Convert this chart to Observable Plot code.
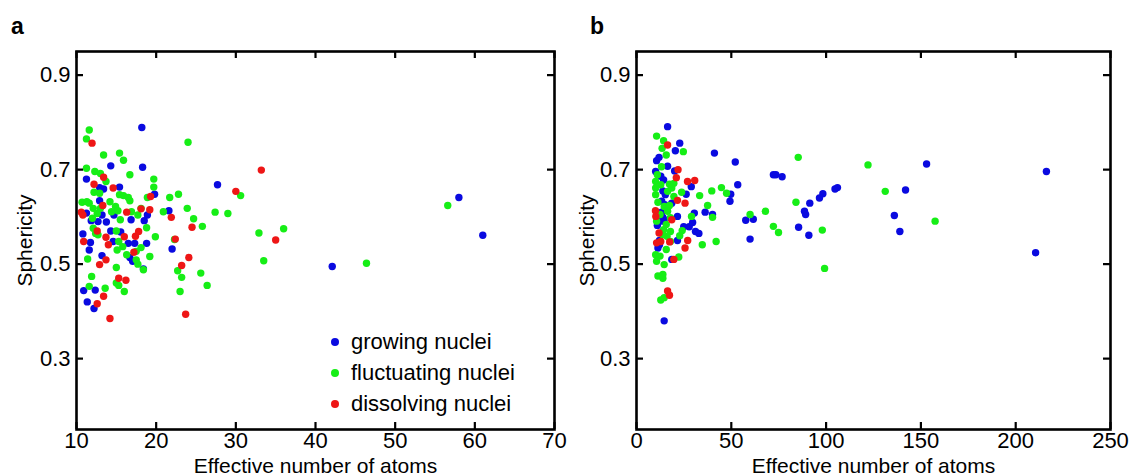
<!DOCTYPE html>
<html><head><meta charset="utf-8">
<script src="https://cdn.jsdelivr.net/npm/d3@7"></script>
<script src="https://cdn.jsdelivr.net/npm/@observablehq/plot@0.6"></script>
<style>
body{margin:0;background:#fff;font-family:"Liberation Sans",Arial,sans-serif;}
#wrap{position:relative;width:1129px;height:475px;overflow:hidden;background:#fff}
.panel{position:absolute;top:0}
.letter{position:absolute;top:15px;font-size:23px;font-weight:bold;line-height:22px;color:#000}
#legend{position:absolute;left:331px;top:326px;font-size:22px;color:#000}
.row{display:flex;align-items:center;height:31px;white-space:nowrap}
.dot{width:8px;height:8px;border-radius:50%;margin-right:12px;flex:none}
</style></head><body>
<div id="wrap">
  <div id="pa" class="panel" style="left:0"></div>
  <div id="pb" class="panel" style="left:565px"></div>
  <div class="letter" style="left:11px">a</div>
  <div class="letter" style="left:590px">b</div>
  <div id="legend"></div>
</div>
<script>
const seriesNames = ["growing nuclei", "fluctuating nuclei", "dissolving nuclei"];
const seriesColors = ["#0a0ae0", "#16ee16", "#ee1616"];
const yTicks = [0.3, 0.5, 0.7, 0.9];
const xTicksA = [10, 20, 30, 40, 50, 60, 70];
const xTicksB = [0, 50, 100, 150, 200, 250];

// Panel a
const aGrowing = [[18.2,0.789],[14.3,0.708],[18.3,0.705],[11.25,0.680],[15.4,0.663],[13.4,0.659],[12.9,0.662],[12.9,0.634],[11.85,0.592],[11.25,0.608],[10.8,0.564],[11.6,0.530],[11.75,0.546],[12.7,0.590],[13.2,0.604],[14.7,0.604],[14.3,0.570],[14.6,0.548],[15.55,0.568],[13.2,0.518],[16.85,0.594],[16.5,0.544],[17.3,0.544],[16.7,0.514],[17.05,0.506],[18.5,0.592],[18.9,0.604],[18.8,0.544],[18.4,0.490],[19.8,0.648],[21.6,0.613],[22.0,0.532],[27.7,0.668],[10.9,0.444],[11.35,0.420],[12.35,0.445],[12.2,0.406],[42.1,0.495],[58.0,0.641],[61.0,0.561],[13.75,0.589]];
const aFluctuating = [[11.6,0.784],[11.25,0.765],[24.0,0.758],[13.4,0.731],[15.4,0.735],[15.9,0.720],[11.25,0.703],[12.3,0.696],[13.0,0.692],[16.7,0.689],[13.7,0.675],[19.7,0.680],[19.7,0.663],[12.2,0.652],[12.9,0.650],[15.4,0.647],[15.9,0.645],[16.5,0.641],[16.7,0.634],[18.9,0.641],[21.7,0.641],[22.8,0.648],[30.6,0.645],[10.7,0.631],[11.3,0.632],[11.6,0.629],[14.2,0.632],[23.9,0.618],[24.7,0.596],[27.4,0.610],[29.0,0.607],[20.9,0.611],[25.8,0.580],[32.9,0.566],[36.0,0.575],[56.6,0.624],[33.5,0.507],[46.4,0.502],[12.1,0.618],[12.6,0.607],[14.4,0.611],[14.9,0.622],[15.2,0.613],[15.5,0.594],[16.9,0.611],[17.7,0.604],[18.1,0.618],[12.1,0.576],[12.4,0.565],[12.7,0.562],[15.0,0.570],[15.3,0.548],[15.8,0.537],[15.1,0.530],[16.3,0.520],[17.5,0.527],[18.1,0.535],[18.8,0.577],[19.9,0.558],[22.3,0.552],[17.5,0.509],[17.7,0.500],[19.2,0.516],[11.4,0.511],[11.9,0.474],[11.6,0.453],[13.6,0.449],[15.0,0.493],[15.0,0.460],[15.3,0.455],[16.0,0.442],[22.7,0.486],[23.2,0.472],[23.0,0.442],[25.6,0.481],[26.4,0.455],[18.4,0.488],[12.0,0.597],[13.0,0.618]];
const aDissolving = [[11.95,0.756],[33.2,0.699],[13.4,0.684],[12.2,0.669],[14.6,0.661],[30.0,0.654],[19.3,0.643],[10.6,0.610],[10.8,0.604],[13.3,0.624],[18.1,0.617],[19.2,0.615],[16.3,0.610],[21.9,0.599],[24.5,0.578],[35.0,0.551],[13.7,0.557],[14.0,0.541],[12.6,0.570],[10.9,0.548],[16.0,0.558],[17.4,0.559],[17.8,0.569],[17.2,0.525],[22.4,0.553],[12.9,0.499],[13.7,0.509],[23.2,0.497],[24.1,0.514],[15.3,0.470],[16.2,0.466],[13.4,0.432],[12.6,0.416],[14.2,0.385],[23.7,0.394]];

// Panel b
const bGrowing = [[16.4,0.791],[22.8,0.756],[20.5,0.740],[41.1,0.735],[52.1,0.716],[153.0,0.712],[216.2,0.696],[10.6,0.719],[11.9,0.726],[10.1,0.696],[12.8,0.686],[14.3,0.678],[16.4,0.707],[20.1,0.697],[72.2,0.689],[73.5,0.689],[76.8,0.685],[53.4,0.668],[28.9,0.664],[26.2,0.648],[106.0,0.662],[104.7,0.659],[141.9,0.657],[13.9,0.655],[15.2,0.647],[49.7,0.648],[49.3,0.633],[98.3,0.649],[96.5,0.640],[91.4,0.629],[13.3,0.633],[14.9,0.626],[18.6,0.629],[13.2,0.610],[30.5,0.608],[36.2,0.610],[40.1,0.605],[136.0,0.603],[88.6,0.612],[89.2,0.605],[21.6,0.601],[57.6,0.593],[61.6,0.595],[11.0,0.582],[13.2,0.591],[24.9,0.579],[27.8,0.579],[29.6,0.588],[31.1,0.569],[32.9,0.565],[85.5,0.578],[138.9,0.569],[90.9,0.561],[59.9,0.553],[21.6,0.550],[12.1,0.550],[12.1,0.541],[11.3,0.534],[18.6,0.510],[210.5,0.524],[14.6,0.380],[13.9,0.599],[14.6,0.594]];
const bFluctuating = [[10.6,0.771],[14.3,0.761],[13.5,0.745],[15.7,0.731],[24.7,0.738],[85.3,0.726],[122.1,0.710],[13.2,0.706],[11.0,0.689],[10.1,0.675],[12.8,0.668],[17.4,0.669],[19.7,0.671],[10.1,0.661],[23.8,0.652],[39.7,0.655],[44.8,0.662],[47.5,0.650],[33.3,0.645],[131.2,0.654],[10.1,0.647],[16.4,0.654],[18.6,0.661],[19.7,0.643],[84.1,0.631],[37.5,0.624],[11.3,0.631],[14.6,0.622],[17.4,0.624],[16.4,0.612],[68.0,0.612],[59.9,0.605],[40.1,0.599],[29.0,0.601],[12.4,0.605],[17.9,0.598],[157.5,0.591],[10.6,0.591],[15.7,0.584],[14.3,0.573],[17.9,0.569],[72.2,0.580],[74.9,0.567],[98.0,0.572],[24.1,0.571],[22.8,0.560],[42.0,0.548],[34.7,0.541],[17.9,0.548],[15.7,0.531],[22.3,0.515],[10.1,0.520],[12.4,0.517],[10.6,0.506],[14.6,0.499],[99.2,0.491],[11.3,0.475],[13.9,0.478],[13.9,0.470],[14.6,0.429],[12.8,0.424],[16.1,0.559],[13.9,0.562]];
const bDissolving = [[16.4,0.752],[21.9,0.700],[21.0,0.683],[26.9,0.675],[30.7,0.677],[25.6,0.629],[21.6,0.635],[10.0,0.613],[10.2,0.601],[18.6,0.594],[27.0,0.550],[25.6,0.534],[17.5,0.547],[12.8,0.548],[10.6,0.545],[19.7,0.510],[16.4,0.443],[17.4,0.434],[11.9,0.566]];

function toRows(groups) {
  const rows = [];
  groups.forEach((pts, i) => pts.forEach(([x, y]) => rows.push({x, y, series: seriesNames[i]})));
  return rows;
}

const H = 475, MT = 51, MB = 46;
function panel(rows, xDomain, xTicks, width, marginLeft, marginRight, yLabelOffset) {
  const innerH = H - MT - MB;
  const innerW = width - marginLeft - marginRight;
  const tl = 7;
  return Plot.plot({
    width, height: H, marginTop: MT, marginBottom: MB, marginLeft, marginRight,
    style: {fontSize: "21px", fontFamily: "'Liberation Sans', Arial, sans-serif", background: "transparent", overflow: "visible", color: "#000"},
    x: {domain: xDomain},
    y: {domain: [0.15, 0.95]},
    color: {domain: seriesNames, range: seriesColors},
    marks: [
      Plot.dot(rows, {x: "x", y: "y", fill: "series", r: 3.7, stroke: "none"}),
      Plot.ruleX(xTicks, {insetTop: innerH - tl, strokeWidth: 2.2, stroke: "#000"}),
      Plot.ruleX(xTicks, {insetBottom: innerH - tl, strokeWidth: 2.2, stroke: "#000"}),
      Plot.ruleY(yTicks, {insetRight: innerW - tl, strokeWidth: 2.2, stroke: "#000"}),
      Plot.ruleY(yTicks, {insetLeft: innerW - tl, strokeWidth: 2.2, stroke: "#000"}),
      Plot.frame({stroke: "#000", strokeWidth: 2.6}),
      Plot.axisX({ticks: xTicks, tickFormat: d => String(d), tickSize: 0, tickPadding: 3, fontSize: 22,
        label: null}),
      Plot.axisX({ticks: [], tickSize: 0, label: "Effective number of atoms", labelAnchor: "center", labelArrow: "none", labelOffset: 43}),
      Plot.axisY({ticks: yTicks, tickFormat: d => d.toFixed(1), tickSize: 0, tickPadding: 6, fontSize: 22,
        label: null}),
      Plot.axisY({ticks: [], tickSize: 0, label: "Sphericity", labelAnchor: "center", labelArrow: "none", labelOffset: yLabelOffset})
    ]
  });
}

document.getElementById("pa").append(
  panel(toRows([aGrowing, aFluctuating, aDissolving]), [10, 70], xTicksA, 580, 76, 26, 59));
document.getElementById("pb").append(
  panel(toRows([bGrowing, bFluctuating, bDissolving]), [0, 250], xTicksB, 564, 71, 19, 57));

const legend = document.getElementById("legend");
seriesNames.forEach((name, i) => {
  const row = document.createElement("div");
  row.className = "row";
  const dot = document.createElement("span");
  dot.className = "dot";
  dot.style.background = seriesColors[i];
  const label = document.createElement("span");
  label.textContent = name;
  row.append(dot, label);
  legend.append(row);
});
</script>
</body></html>
